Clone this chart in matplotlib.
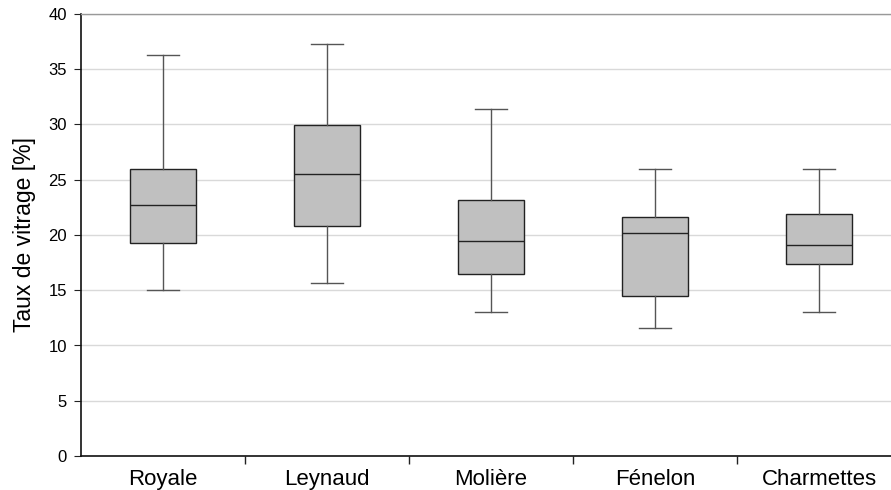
import matplotlib
matplotlib.use("Agg")
import matplotlib.pyplot as plt
from matplotlib.ticker import FixedLocator

categories = ["Royale", "Leynaud", "Molière", "Fénelon", "Charmettes"]
whislo = [15.0, 15.65, 13.0, 11.6, 13.0]
q1 = [19.3, 20.85, 16.5, 14.5, 17.4]
med = [22.7, 25.5, 19.45, 20.2, 19.1]
q3 = [26.0, 29.95, 23.2, 21.6, 21.9]
whishi = [36.3, 37.3, 31.4, 26.0, 26.0]
yticks = [0, 5, 10, 15, 20, 25, 30, 35, 40]

plt.rcParams['font.family'] = ['Liberation Sans', 'DejaVu Sans']

fig = plt.figure(figsize=(8.91, 4.90), dpi=100)
W, H = 891, 490
ax = fig.add_axes([81 / W, (490 - 456) / H, (891 - 81) / W, (456 - 14) / H])

stats = []
for i, c in enumerate(categories):
    stats.append(dict(label=c, whislo=whislo[i], q1=q1[i], med=med[i],
                      q3=q3[i], whishi=whishi[i], fliers=[]))

pos = list(range(len(categories)))
ax.bxp(stats, positions=pos, widths=0.4, patch_artist=True, showfliers=False,
       boxprops=dict(facecolor='#c0c0c0', edgecolor='#222222', linewidth=1.0),
       medianprops=dict(color='#222222', linewidth=1.0),
       whiskerprops=dict(color='#555555', linewidth=1.0),
       capprops=dict(color='#555555', linewidth=1.0),
       capwidths=0.2)

ax.set_ylim(0, 40)
ax.set_xlim(-0.5, -0.5 + 810 / 164)
ax.set_yticks(yticks)
ax.yaxis.grid(True, color='#d9d9d9', linewidth=1.0)
ax.set_axisbelow(True)

ax.set_xticks(pos)
ax.set_xticklabels(categories, fontsize=16)
ax.xaxis.set_minor_locator(FixedLocator([p + 0.5 for p in pos]))
ax.tick_params(axis='x', which='major', length=0, pad=9)
ax.tick_params(axis='x', which='minor', length=6, color='#222222', width=1)
ax.tick_params(axis='y', length=5, color='#222222', labelsize=12, pad=5)

ax.set_ylabel("Taux de vitrage [%]", fontsize=16.5, labelpad=9)

for s in ['left', 'bottom']:
    ax.spines[s].set_color('#111111')
    ax.spines[s].set_linewidth(1.2)
ax.spines['top'].set_color('#999999')
ax.spines['top'].set_linewidth(1.0)
ax.spines['right'].set_visible(False)

fig.savefig("out.png", dpi=100)
